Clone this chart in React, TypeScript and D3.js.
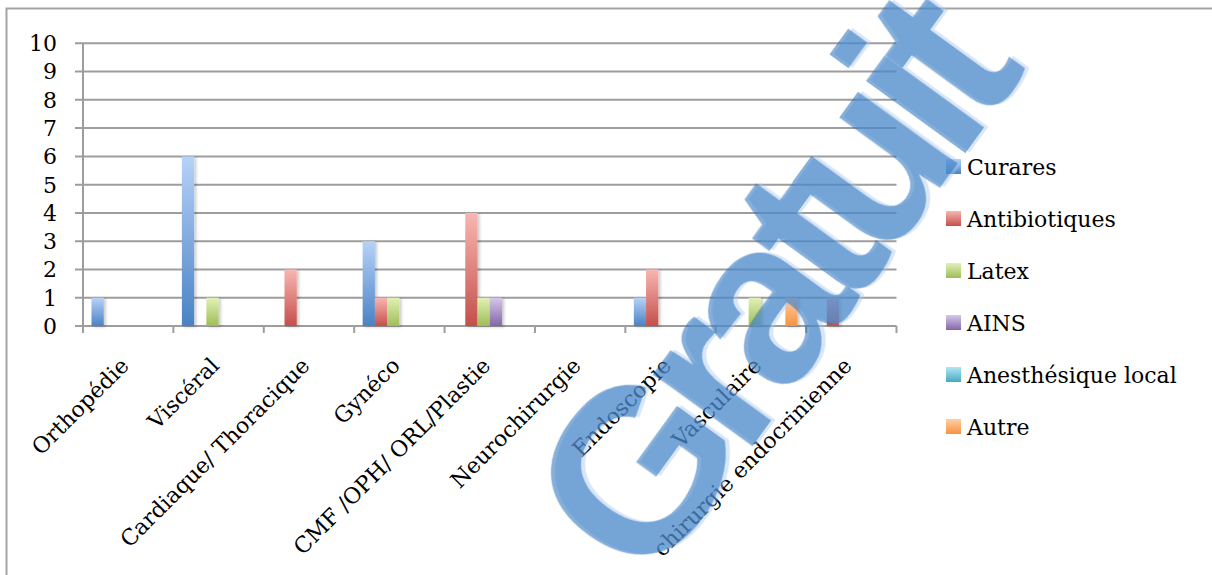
import React from "react";
import * as d3 from "d3";

// Allergy causes by surgical specialty
const categories = [
  "Orthopédie",
  "Viscéral",
  "Cardiaque/ Thoracique",
  "Gynéco",
  "CMF /OPH/ ORL/Plastie",
  "Neurochirurgie",
  "Endoscopie",
  "Vasculaire",
  "chirurgie endocrinienne",
];

const seriesNames = [
  "Curares",
  "Antibiotiques",
  "Latex",
  "AINS",
  "Anesthésique local",
  "Autre",
];

const curares = [1, 6, 0, 3, 0, 0, 1, 0, 0];
const antibiotiques = [0, 0, 2, 1, 4, 0, 2, 0, 1];
const latex = [0, 1, 0, 1, 1, 0, 0, 1, 0];
const ains = [0, 0, 0, 0, 1, 0, 0, 0, 0];
const anesthesiqueLocal = [0, 0, 0, 0, 0, 0, 0, 0, 0];
const autre = [0, 0, 0, 0, 0, 0, 0, 1, 0];

const seriesValues = [curares, antibiotiques, latex, ains, anesthesiqueLocal, autre];

// gradient stops (top, bottom) per series
const seriesColors: [string, string][] = [
  ["#b6d2f8", "#4a82c4"],
  ["#f9b6b2", "#c44f4a"],
  ["#e1f1b6", "#9ebd58"],
  ["#d4c8ea", "#8466a6"],
  ["#b2e7f3", "#45a9c4"],
  ["#fdd0a8", "#f7923f"],
];

const yTicks = [0, 1, 2, 3, 4, 5, 6, 7, 8, 9, 10];

const W = 1212;
const H = 575;
const FONT = "'DejaVu Serif', serif";

export default function App() {
  const x = d3.scaleBand<string>().domain(categories).range([83, 896.5]).padding(0);
  const y = d3.scaleLinear().domain([0, 10]).range([326, 43.3]);
  const step = x.step();
  const inner = d3
    .scaleBand<number>()
    .domain(d3.range(seriesNames.length))
    .range([8.5, step - 8.5])
    .padding(0);

  const legendY = (i: number) => 167 + i * 52;

  return (
    <svg
      width={W}
      height={H}
      style={{ position: "absolute", left: 0, top: 0, background: "#fff" }}
      fontFamily={FONT}
    >
      <defs>
        {seriesColors.map(([top, bottom], i) => (
          <linearGradient key={i} id={`grad${i}`} x1="0" y1="0" x2="0" y2="1">
            <stop offset="0" stopColor={top} />
            <stop offset="1" stopColor={bottom} />
          </linearGradient>
        ))}
        <filter id="barShadow" x="-50%" y="-10%" width="200%" height="130%">
          <feDropShadow dx="2" dy="1" stdDeviation="1.6" floodColor="#000" floodOpacity="0.22" />
        </filter>
        <filter id="wmSoft">
          <feGaussianBlur stdDeviation="0.6" />
        </filter>
      </defs>

      {/* outer chart frame */}
      <rect x={6.5} y={8.5} width={1400} height={800} fill="#fff" stroke="#a3a3a3" strokeWidth={2} />

      {/* gridlines */}
      {yTicks.map((t) => (
        <line key={t} x1={75} x2={896.5} y1={y(t)} y2={y(t)} stroke="#9d9d9d" strokeWidth={2} />
      ))}
      {/* vertical axis */}
      <line x1={83} x2={83} y1={y(10)} y2={y(0) + 7} stroke="#9d9d9d" strokeWidth={2} />
      {/* category ticks */}
      {d3.range(categories.length + 1).map((i) => (
        <line
          key={i}
          x1={83 + i * step}
          x2={83 + i * step}
          y1={y(0)}
          y2={y(0) + 7}
          stroke="#9d9d9d"
          strokeWidth={2}
        />
      ))}

      {/* y tick labels */}
      {yTicks.map((t) => (
        <text key={t} x={57} y={y(t)} dy="0.36em" textAnchor="end" fontSize={22} fill="#000">
          {t}
        </text>
      ))}

      {/* bars */}
      <g filter="url(#barShadow)">
        {categories.map((c, ci) =>
          seriesValues.map((vals, si) =>
            vals[ci] > 0 ? (
              <rect
                key={`${ci}-${si}`}
                x={(x(c) as number) + (inner(si) as number)}
                y={y(vals[ci])}
                width={inner.bandwidth()}
                height={y(0) - y(vals[ci])}
                fill={`url(#grad${si})`}
              />
            ) : null
          )
        )}
      </g>

      {/* category labels */}
      {categories.map((c) => {
        const cx = (x(c) as number) + step / 2 + 2;
        return (
          <text
            key={c}
            transform={`translate(${cx},367) rotate(-45)`}
            textAnchor="end"
            fontSize={22}
            fill="#000"
          >
            {c}
          </text>
        );
      })}

      {/* legend */}
      {seriesNames.map((s, i) => (
        <g key={s}>
          <rect x={946} y={legendY(i) - 8} width={15} height={15} fill={`url(#grad${i})`} />
          <text x={967} y={legendY(i)} dy="0.36em" fontSize={22} fill="#000">
            {s}
          </text>
        </g>
      ))}

      {/* watermark */}
      <g transform="translate(648,590) rotate(-54)" filter="url(#wmSoft)">
        <text
          x={3}
          y={3}
          fontFamily="'Liberation Sans', Arial, sans-serif"
          fontWeight="bold"
          fontSize={232}
          letterSpacing={-19}
          fill="#a8c8ec"
          opacity={0.45}
        >
          Gratuit
        </text>
        <text
          x={0}
          y={0}
          fontFamily="'Liberation Sans', Arial, sans-serif"
          fontWeight="bold"
          fontSize={232}
          letterSpacing={-19}
          fill="#2f75c0"
          opacity={0.58}
        >
          Gratuit
        </text>
      </g>
    </svg>
  );
}
